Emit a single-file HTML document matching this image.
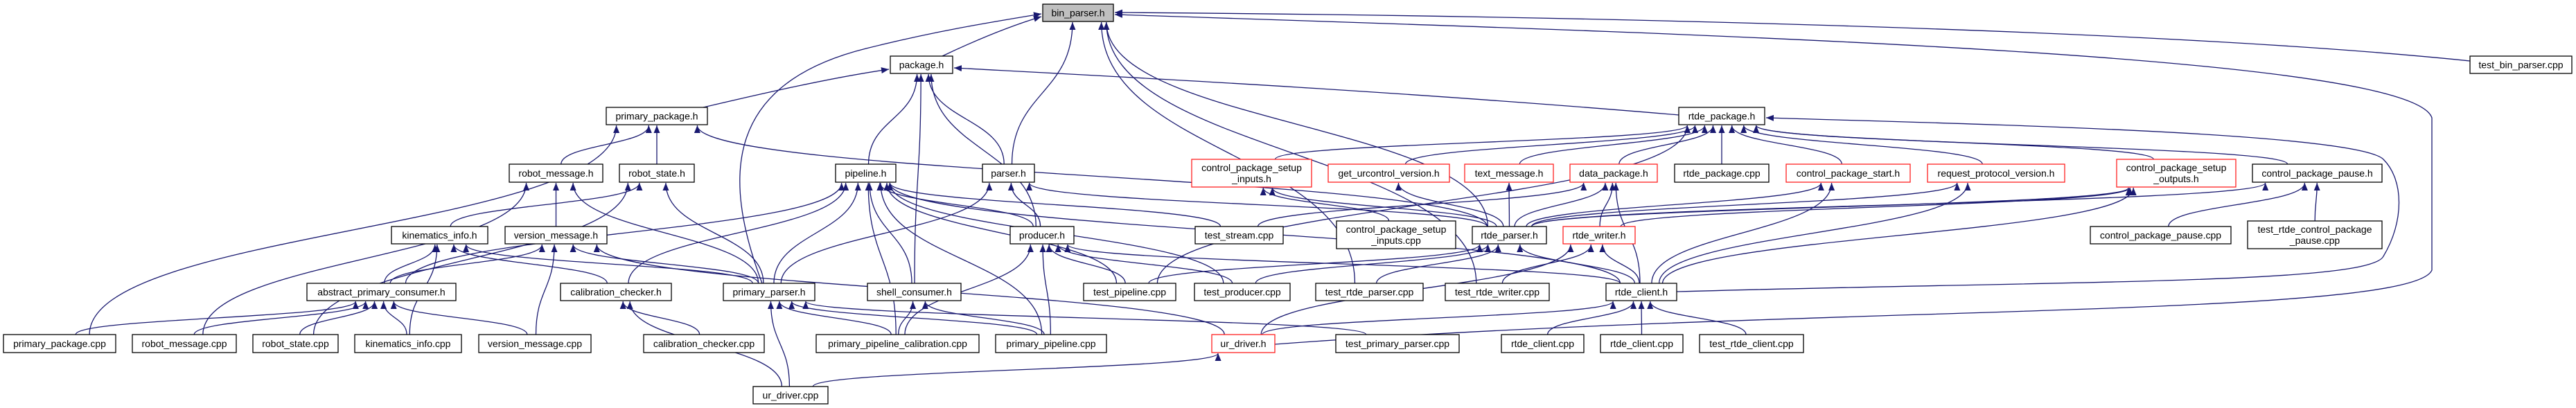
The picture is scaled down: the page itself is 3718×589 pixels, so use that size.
<!DOCTYPE html>
<html><head><meta charset="utf-8"><style>
html,body{margin:0;padding:0;background:#fff;}
svg{display:block;}
text{font-family:"Liberation Sans",sans-serif;font-size:14px;fill:#000;}
rect{fill:#fff;stroke:#000;stroke-width:1.3;}
rect.r{stroke:#ff2020;}
rect.g{fill:#bfbfbf;}
path.e{fill:none;stroke:#191970;stroke-width:1.3;}
</style></head><body>
<svg id="s" width="3718" height="589" viewBox="0 0 3718 589" xmlns="http://www.w3.org/2000/svg">
<defs><marker id="a" markerUnits="userSpaceOnUse" markerWidth="12" markerHeight="9" refX="11" refY="4.5" orient="auto"><path d="M0,0 L11,4.5 L0,9 z" fill="#191970"/></marker></defs>
<g id="edges"></g>
<g id="nodes">
<rect class="g" x="1505" y="6" width="102" height="25"/><text x="1556" y="23.5" text-anchor="middle">bin_parser.h</text>
<rect x="1285" y="81" width="90" height="25"/><text x="1330" y="98.5" text-anchor="middle">package.h</text>
<rect x="3565" y="81" width="147" height="25"/><text x="3638.5" y="98.5" text-anchor="middle">test_bin_parser.cpp</text>
<rect x="875" y="155" width="146" height="25"/><text x="948" y="172.5" text-anchor="middle">primary_package.h</text>
<rect x="2423" y="155" width="124" height="25"/><text x="2485" y="172.5" text-anchor="middle">rtde_package.h</text>

<rect x="735" y="237" width="135" height="26"/><text x="802.5" y="255" text-anchor="middle">robot_message.h</text>
<rect x="894" y="237" width="108" height="26"/><text x="948" y="255" text-anchor="middle">robot_state.h</text>
<rect x="1206" y="237" width="87" height="26"/><text x="1249.5" y="255" text-anchor="middle">pipeline.h</text>
<rect x="1418" y="237" width="75" height="26"/><text x="1455.5" y="255" text-anchor="middle">parser.h</text>
<rect class="r" x="1720" y="230" width="173" height="40"/><text x="1806.5" y="247" text-anchor="middle">control_package_setup</text><text x="1806.5" y="263" text-anchor="middle">_inputs.h</text>
<rect class="r" x="1917" y="237" width="175" height="26"/><text x="2004.5" y="255" text-anchor="middle">get_urcontrol_version.h</text>
<rect class="r" x="2114" y="237" width="128" height="26"/><text x="2178" y="255" text-anchor="middle">text_message.h</text>
<rect class="r" x="2266" y="237" width="126" height="26"/><text x="2329" y="255" text-anchor="middle">data_package.h</text>
<rect x="2417" y="237" width="136" height="26"/><text x="2485" y="255" text-anchor="middle">rtde_package.cpp</text>
<rect class="r" x="2578" y="237" width="179" height="26"/><text x="2667.5" y="255" text-anchor="middle">control_package_start.h</text>
<rect class="r" x="2782" y="237" width="198" height="26"/><text x="2881" y="255" text-anchor="middle">request_protocol_version.h</text>
<rect class="r" x="3055" y="230" width="172" height="40"/><text x="3141" y="247" text-anchor="middle">control_package_setup</text><text x="3141" y="263" text-anchor="middle">_outputs.h</text>
<rect x="3251" y="237" width="187" height="26"/><text x="3344.5" y="255" text-anchor="middle">control_package_pause.h</text>

<rect x="565" y="327" width="139" height="25"/><text x="634.5" y="344.5" text-anchor="middle">kinematics_info.h</text>
<rect x="729" y="327" width="147" height="25"/><text x="802.5" y="344.5" text-anchor="middle">version_message.h</text>
<rect x="1458" y="327" width="92" height="25"/><text x="1504" y="344.5" text-anchor="middle">producer.h</text>
<rect x="1725" y="327" width="127" height="25"/><text x="1788.5" y="344.5" text-anchor="middle">test_stream.cpp</text>
<rect x="1929" y="319" width="172" height="40"/><text x="2015" y="336" text-anchor="middle">control_package_setup</text><text x="2015" y="352" text-anchor="middle">_inputs.cpp</text>
<rect x="2125" y="327" width="107" height="25"/><text x="2178.5" y="344.5" text-anchor="middle">rtde_parser.h</text>
<rect class="r" x="2256" y="327" width="104" height="25"/><text x="2308" y="344.5" text-anchor="middle">rtde_writer.h</text>
<rect x="3017" y="327" width="203" height="25"/><text x="3118.5" y="344.5" text-anchor="middle">control_package_pause.cpp</text>
<rect x="3244" y="319" width="194" height="40"/><text x="3341" y="336" text-anchor="middle">test_rtde_control_package</text><text x="3341" y="352" text-anchor="middle">_pause.cpp</text>

<rect x="443" y="409" width="215" height="25"/><text x="550.5" y="426.5" text-anchor="middle">abstract_primary_consumer.h</text>
<rect x="809" y="409" width="160" height="25"/><text x="889" y="426.5" text-anchor="middle">calibration_checker.h</text>
<rect x="1044" y="409" width="132" height="25"/><text x="1110" y="426.5" text-anchor="middle">primary_parser.h</text>
<rect x="1252" y="409" width="135" height="25"/><text x="1319.5" y="426.5" text-anchor="middle">shell_consumer.h</text>
<rect x="1564" y="409" width="133" height="25"/><text x="1630.5" y="426.5" text-anchor="middle">test_pipeline.cpp</text>
<rect x="1724" y="409" width="138" height="25"/><text x="1793" y="426.5" text-anchor="middle">test_producer.cpp</text>
<rect x="1899" y="409" width="155" height="25"/><text x="1976.5" y="426.5" text-anchor="middle">test_rtde_parser.cpp</text>
<rect x="2086" y="409" width="150" height="25"/><text x="2161" y="426.5" text-anchor="middle">test_rtde_writer.cpp</text>
<rect x="2318" y="409" width="102" height="25"/><text x="2369" y="426.5" text-anchor="middle">rtde_client.h</text>

<rect x="5" y="483" width="162" height="26"/><text x="86" y="501" text-anchor="middle">primary_package.cpp</text>
<rect x="191" y="483" width="150" height="26"/><text x="266" y="501" text-anchor="middle">robot_message.cpp</text>
<rect x="365" y="483" width="123" height="26"/><text x="426.5" y="501" text-anchor="middle">robot_state.cpp</text>
<rect x="512" y="483" width="154" height="26"/><text x="589" y="501" text-anchor="middle">kinematics_info.cpp</text>
<rect x="691" y="483" width="162" height="26"/><text x="772" y="501" text-anchor="middle">version_message.cpp</text>
<rect x="929" y="483" width="174" height="26"/><text x="1016" y="501" text-anchor="middle">calibration_checker.cpp</text>
<rect x="1178" y="483" width="235" height="26"/><text x="1295.5" y="501" text-anchor="middle">primary_pipeline_calibration.cpp</text>
<rect x="1437" y="483" width="160" height="26"/><text x="1517" y="501" text-anchor="middle">primary_pipeline.cpp</text>
<rect class="r" x="1749" y="483" width="91" height="26"/><text x="1794.5" y="501" text-anchor="middle">ur_driver.h</text>
<rect x="1928" y="483" width="178" height="26"/><text x="2017" y="501" text-anchor="middle">test_primary_parser.cpp</text>
<rect x="2167" y="483" width="119" height="26"/><text x="2226.5" y="501" text-anchor="middle">rtde_client.cpp</text>
<rect x="2310" y="483" width="119" height="26"/><text x="2369.5" y="501" text-anchor="middle">rtde_client.cpp</text>
<rect x="2453" y="483" width="150" height="26"/><text x="2528" y="501" text-anchor="middle">test_rtde_client.cpp</text>
<rect x="1087" y="558" width="108" height="25"/><text x="1141" y="575.5" text-anchor="middle">ur_driver.cpp</text>
</g>
</svg>
<script>
var N={
bin:[1505,6,102,25],package:[1285,81,90,25],tbp:[3565,81,147,25],ppkg_h:[875,155,146,25],rpkg_h:[2423,155,124,25],
rmsg_h:[735,237,135,26],rstate_h:[894,237,108,26],pipe_h:[1206,237,87,26],parser_h:[1418,237,75,26],cpsi_h:[1720,230,173,40],
guv:[1917,237,175,26],txt:[2114,237,128,26],dpkg:[2266,237,126,26],rpkg_cpp:[2417,237,136,26],cpstart:[2578,237,179,26],
rpv:[2782,237,198,26],cpso:[3055,230,172,40],cpause_h:[3251,237,187,26],
kin_h:[565,327,139,25],vmsg_h:[729,327,147,25],prod_h:[1458,327,92,25],tstream:[1725,327,127,25],cpsi_cpp:[1929,319,172,40],
rparser_h:[2125,327,107,25],rwriter_h:[2256,327,104,25],cpause_cpp:[3017,327,203,25],trcpp:[3244,319,194,40],
abs:[443,409,215,25],calib_h:[809,409,160,25],pparser_h:[1044,409,132,25],shell_h:[1252,409,135,25],tpipe:[1564,409,133,25],
tprod:[1724,409,138,25],trparser:[1899,409,155,25],trwriter:[2086,409,150,25],rclient_h:[2318,409,102,25],
ppkg_cpp:[5,483,162,26],rmsg_cpp:[191,483,150,26],rstate_cpp:[365,483,123,26],kin_cpp:[512,483,154,26],vmsg_cpp:[691,483,162,26],
calib_cpp:[929,483,174,26],ppc:[1178,483,235,26],ppipe_cpp:[1437,483,160,26],urd_h:[1749,483,91,26],tpp:[1928,483,178,26],
rc_cpp:[2167,483,119,26],rc_cpp2:[2310,483,119,26],trc:[2453,483,150,26],urd_cpp:[1087,558,108,25]};
var E=[
['parser_h','bin'],['rparser_h','bin'],['trparser','bin'],['trwriter','bin'],
['shell_h','package'],['pipe_h','package'],['prod_h','package'],['parser_h','package'],
['ppkg_cpp','ppkg_h'],['rmsg_h','ppkg_h'],['rstate_h','ppkg_h'],['rparser_h','ppkg_h'],
['rmsg_cpp','rmsg_h'],['vmsg_h','rmsg_h'],['pparser_h','rmsg_h'],
['rstate_cpp','rstate_h'],['pparser_h','rstate_h'],['kin_h','rstate_h'],
['abs','pipe_h'],['calib_h','pipe_h'],['pparser_h','pipe_h'],['ppc','pipe_h'],['shell_h','pipe_h'],['ppipe_cpp','pipe_h'],
['prod_h','pipe_h'],['tpipe','pipe_h'],['tstream','pipe_h'],['tprod','pipe_h'],['rclient_h','pipe_h'],
['pparser_h','parser_h'],['prod_h','parser_h'],['rparser_h','parser_h'],
['ppc','prod_h'],['ppipe_cpp','prod_h'],['tpipe','prod_h'],['tprod','prod_h'],['rclient_h','prod_h'],
['tpipe','rpkg_h'],['cpsi_h','rpkg_h'],['guv','rpkg_h'],['txt','rpkg_h'],['dpkg','rpkg_h'],['rpkg_cpp','rpkg_h'],
['cpstart','rpkg_h'],['rpv','rpkg_h'],['cpso','rpkg_h'],['cpause_h','rpkg_h'],
['cpsi_cpp','cpsi_h'],['rparser_h','cpsi_h'],['rparser_h','guv'],['rparser_h','txt'],
['rparser_h','dpkg'],['rwriter_h','dpkg'],['rclient_h','dpkg'],['tstream','dpkg'],
['rparser_h','cpstart'],['rclient_h','cpstart'],['rparser_h','rpv'],['rclient_h','rpv'],
['rparser_h','cpso'],['rclient_h','cpso'],['rwriter_h','cpso'],
['rparser_h','cpause_h'],['cpause_cpp','cpause_h'],['trcpp','cpause_h'],
['trparser','rparser_h'],['tpipe','rparser_h'],['tprod','rparser_h'],['rclient_h','rparser_h'],
['rclient_h','rwriter_h'],['trwriter','rwriter_h'],['urd_h','rwriter_h'],
['rc_cpp','rclient_h'],['rc_cpp2','rclient_h'],['trc','rclient_h'],['urd_h','rclient_h'],
['ppc','pparser_h'],['ppipe_cpp','pparser_h'],['tpp','pparser_h'],['urd_cpp','pparser_h'],
['abs','vmsg_h'],['vmsg_cpp','vmsg_h'],['pparser_h','vmsg_h'],['urd_h','vmsg_h'],
['abs','kin_h'],['kin_cpp','kin_h'],['pparser_h','kin_h'],['calib_h','kin_h'],
['ppkg_cpp','abs'],['rmsg_cpp','abs'],['rstate_cpp','abs'],['kin_cpp','abs'],['vmsg_cpp','abs'],
['calib_cpp','calib_h'],['urd_cpp','calib_h'],['ppc','shell_h'],['ppipe_cpp','shell_h'],['urd_cpp','urd_h']];
var C=[
'M1360,81 C1400,62 1450,40 1503,24',
'M1100,409 C1040,250 1050,120 1250,70 C1350,45 1430,32 1503,20',
'M3565,88 C3100,40 2200,22 1609,18',
'M1840,497 C2600,440 3480,460 3510,390 L3510,170 C3480,80 2500,50 1609,21',
'M2420,421 C3000,405 3420,410 3440,370 C3470,320 3470,260 3440,230 C3400,190 2800,178 2549,170',
'M2423,166 C2000,130 1600,110 1377,98',
'M1015,155 C1100,135 1200,112 1283,100'];
var g=document.getElementById('edges'),ns='http://www.w3.org/2000/svg';
function add(d){var p=document.createElementNS(ns,'path');p.setAttribute('d',d);p.setAttribute('class','e');p.setAttribute('marker-end','url(#a)');g.appendChild(p);}
E.forEach(function(e){var s=N[e[0]],t=N[e[1]];var sx=s[0]+s[2]/2,sy=s[1];var tc=t[0]+t[2]/2;
var off=Math.max(-t[2]*0.4,Math.min(t[2]*0.4,(sx-tc)*0.08));var tx=tc+off,ty=t[1]+t[3]+1;
var sxo=sx+Math.max(-s[2]*0.3,Math.min(s[2]*0.3,(tc-sx)*0.05));
var dy=sy-ty;var k=Math.max(20,Math.abs(dy)*0.5);
add('M'+sxo+','+sy+' C'+sxo+','+(sy-k)+' '+tx+','+(ty+k)+' '+tx+','+ty);});
C.forEach(add);
</script>
</body></html>
